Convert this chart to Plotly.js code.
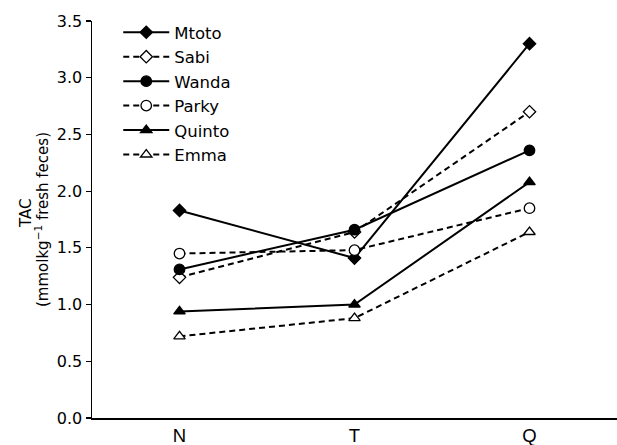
<!DOCTYPE html>
<html><head><meta charset="utf-8">
<script src="https://cdn.plot.ly/plotly-3.0.1.min.js"></script>
<style>body{margin:0;padding:0;background:#fff}#chart{width:617px;height:445px}</style>
</head><body><div id="chart"></div>
<script>
const categories = ["N", "T", "Q"];
const mtoto  = [1.83, 1.41, 3.30];
const sabi   = [1.24, 1.64, 2.70];
const wanda  = [1.31, 1.66, 2.36];
const parky  = [1.45, 1.48, 1.85];
const quinto = [0.94, 1.00, 2.08];
const emma   = [0.72, 0.88, 1.64];
const names = ["Mtoto", "Sabi", "Wanda", "Parky", "Quinto", "Emma"];
const yTickVals = [0, 0.5, 1, 1.5, 2, 2.5, 3, 3.5];
const yTickText = ["0.0", "0.5", "1.0", "1.5", "2.0", "2.5", "3.0", "3.5"];
const yTitleTop = "TAC";
const yTitleUnit = "(mmolkg<sup>−1</sup> fresh feces)";

const series = [mtoto, sabi, wanda, parky, quinto, emma];
const symbols = ["diamond", "diamond", "circle", "circle", "triangle-up", "triangle-up"];
const filled = [true, false, true, false, true, false];
const sizes = [9.5, 9.5, 10.5, 10.5, 10, 10];

const traces = series.map((vals, i) => ({
  x: categories, y: vals, name: names[i], type: "scatter", mode: "lines+markers",
  legendgroup: "g" + i,
  line: {color: "#000", width: 2, dash: filled[i] ? "solid" : "6px,4px"},
  marker: {symbol: symbols[i], size: sizes[i], color: filled[i] ? "#000" : "#fff",
           line: {color: "#000", width: 1.3}},
  cliponaxis: false
}));

const layout = {
  width: 617, height: 445,
  margin: {l: 92, r: 0, t: 21, b: 27},
  paper_bgcolor: "#fff", plot_bgcolor: "#fff",
  font: {family: "DejaVu Sans, Verdana, sans-serif", color: "#000", size: 15},
  showlegend: true,
  legend: {x: 0.05, y: 1.015, xanchor: "left", yanchor: "top", bgcolor: "rgba(0,0,0,0)",
           font: {size: 16.5, family: "DejaVu Sans, Verdana, sans-serif"},
           itemwidth: 46, tracegroupgap: 4, traceorder: "normal"},
  xaxis: {type: "category", range: [-0.5, 2.5], showline: true, linecolor: "#000", linewidth: 1.5,
          ticks: "", showgrid: false, zeroline: false,
          tickfont: {family: "Liberation Sans, Arial, sans-serif", size: 18.5}},
  yaxis: {range: [0, 3.5], showline: true, linecolor: "#000", linewidth: 1.5,
          ticks: "outside", ticklen: 5, tickwidth: 1.2, tickcolor: "#000",
          tickvals: yTickVals, ticktext: yTickText, showgrid: false, zeroline: false,
          tickfont: {size: 16},
          title: {text: yTitleUnit, font: {size: 15}, standoff: 4}},
  annotations: [{text: yTitleTop, xref: "paper", yref: "paper", x: (26 - 92) / 525, y: (418 - 214) / 397,
                 xanchor: "center", yanchor: "middle", textangle: -90, showarrow: false,
                 font: {size: 15}}]
};
Plotly.newPlot("chart", traces, layout, {displayModeBar: false, staticPlot: true});
</script></body></html>
